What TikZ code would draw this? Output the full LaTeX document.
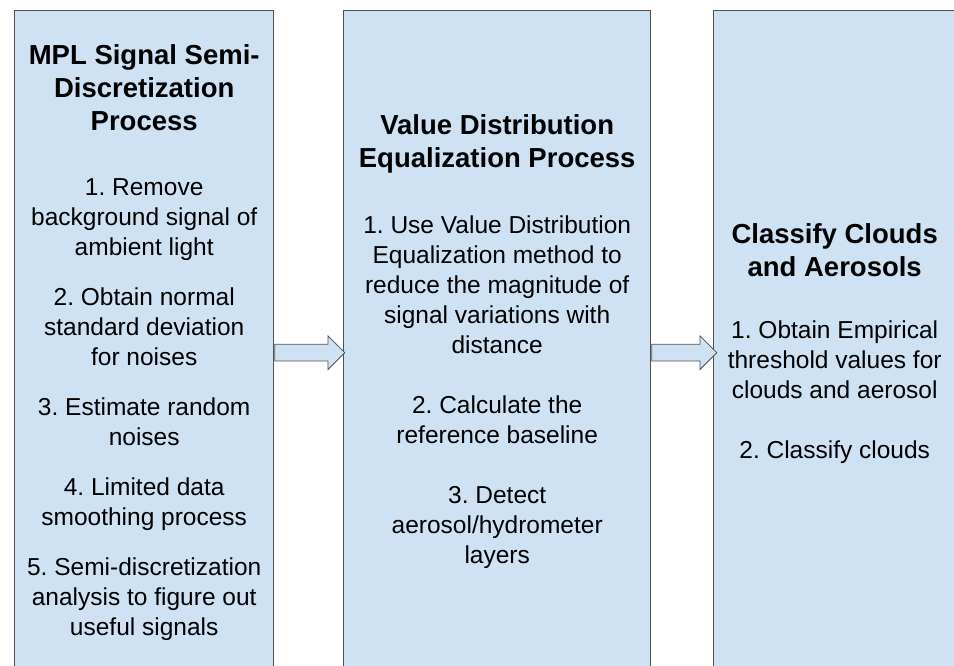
\documentclass[tikz,border=0pt]{standalone}
\usepackage{fontspec}
\setmainfont{Liberation Sans}
\usetikzlibrary{positioning,shapes.arrows}
\definecolor{panelblue}{HTML}{CFE2F3}
\definecolor{edgegray}{HTML}{505050}
\frenchspacing

\begin{document}
\begin{tikzpicture}[
	x=1pt, y=1pt,
	stage/.style={rectangle, draw=edgegray, line width=1.4pt, fill=panelblue,
		anchor=north west, inner sep=0pt, minimum height=690pt},
	heading/.style={font=\bfseries\fontsize{27.5}{33}\selectfont, align=center},
	steps/.style={font=\fontsize{24.5}{30}\selectfont, align=center},
	flow/.style={single arrow, draw=edgegray, line width=0.8pt, fill=panelblue,
		inner xsep=0pt, inner ysep=8pt, text height=0pt, text depth=0pt,
		single arrow head extend=8.5pt, single arrow tip angle=90, anchor=west}
]
\useasboundingbox (0,0) rectangle (954,666);
\clip (0,0) rectangle (954,666);

%% Draw the three stages
\node[stage, minimum width=259pt] (s1) at (14,656) {};
\node[stage, minimum width=307pt] (s2) at (343,656) {};
\node[stage, minimum width=242pt] (s3) at (713,656) {};

%% Arrows between stages
\node[flow, minimum height=70pt] (a1) at ([yshift=3pt]s1.east) {};
\node[flow, minimum height=65pt] (a2) at ([yshift=3pt]s2.east) {};

%% Texts of stage 1
\node[heading] (t1) at ([yshift=-78pt]s1.north) {MPL Signal Semi-\\Discretization\\Process};
\node[steps] (l1) at ([yshift=-400pt]s1.north) {1. Remove\\background signal of\\ambient light\\[20pt]
	2. Obtain normal\\standard deviation\\for noises\\[20pt]
	3. Estimate random\\noises\\[20pt]
	4. Limited data\\smoothing process\\[20pt]
	5. Semi-discretization\\analysis to figure out\\useful signals};

%% Texts of stage 2
\node[heading] (t2) at ([yshift=-134pt]s2.north) {Value Distribution\\Equalization Process};
\node[steps] (l2) at ([yshift=-382pt]s2.north) {1. Use Value Distribution\\Equalization method to\\reduce the magnitude of\\signal variations with\\distance\\[30pt]
	2. Calculate the\\reference baseline\\[30pt]
	3. Detect\\aerosol/hydrometer\\layers};

%% Texts of stage 3
\node[heading] (t3) at ([yshift=-240pt]s3.north) {Classify Clouds\\and Aerosols};
\node[steps] (l3) at ([yshift=-382pt]s3.north) {1. Obtain Empirical\\threshold values for\\clouds and aerosol\\[30pt]
	2. Classify clouds};

\end{tikzpicture}
\end{document}
